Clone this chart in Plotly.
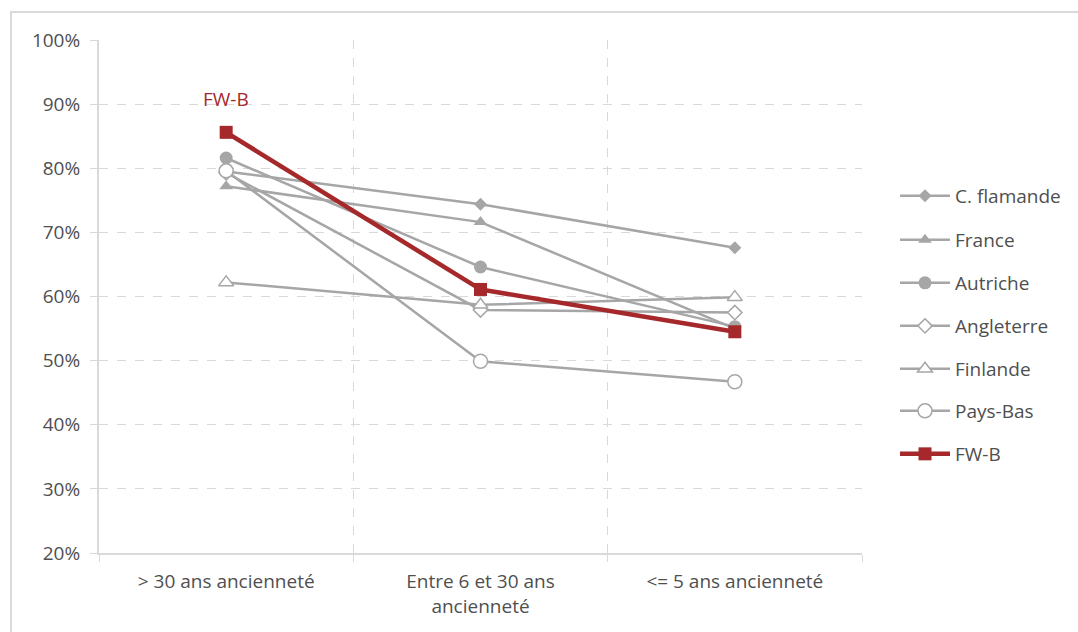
import plotly.graph_objects as go

categories = ["> 30 ans ancienneté", "Entre 6 et 30 ans<br>ancienneté", "<= 5 ans ancienneté"]
series_names = ["C. flamande", "France", "Autriche", "Angleterre", "Finlande", "Pays-Bas", "FW-B"]
c_flamande = [0.795, 0.744, 0.676]
france = [0.772, 0.716, 0.550]
autriche = [0.816, 0.646, 0.553]
angleterre = [0.793, 0.579, 0.575]
finlande = [0.622, 0.587, 0.599]
pays_bas = [0.796, 0.499, 0.467]
fw_b = [0.856, 0.611, 0.545]
y_ticks = [0.2, 0.3, 0.4, 0.5, 0.6, 0.7, 0.8, 0.9, 1.0]

GRAY = "#A6A6A6"
RED = "#A5282A"
TXT = "#4F4F4F"
FONT = "'Open Sans', Lato, sans-serif"

styles = [
    dict(symbol="diamond", size=10, color=GRAY, line=dict(width=0)),
    dict(symbol="triangle-up", size=12, color=GRAY, line=dict(width=0)),
    dict(symbol="circle", size=13, color=GRAY, line=dict(width=0)),
    dict(symbol="diamond", size=11, color="white", line=dict(color=GRAY, width=1.5)),
    dict(symbol="triangle-up", size=13, color="white", line=dict(color=GRAY, width=1.5)),
    dict(symbol="circle", size=14, color="white", line=dict(color=GRAY, width=1.5)),
    dict(symbol="square", size=13, color=RED, line=dict(width=0)),
]
values = [c_flamande, france, autriche, angleterre, finlande, pays_bas, fw_b]

# plot area in pixels: x 99..862, y 40..553
W, H = 1078, 632
L, R, T, B = 99, 1078 - 862, 40, 632 - 553
pw, ph = W - L - R, H - T - B

legend_py = [196, 240, 283, 326, 369, 411, 454]

fig = go.Figure()
for i, (name, vals, st) in enumerate(zip(series_names, values, styles)):
    is_red = name == "FW-B"
    fig.add_trace(go.Scatter(
        x=categories, y=vals, name=name, mode="lines+markers",
        line=dict(color=RED if is_red else GRAY, width=4.5 if is_red else 2.5),
        marker=st,
        legend="legend" if i == 0 else f"legend{i+1}",
        hoverinfo="skip",
    ))

layout_legends = {}
for i, py in enumerate(legend_py):
    key = "legend" if i == 0 else f"legend{i+1}"
    layout_legends[key] = dict(
        x=(895 - L) / pw, y=(553 - py) / ph, xanchor="left", yanchor="middle",
        font=dict(family=FONT, size=19, color=TXT), bgcolor="rgba(0,0,0,0)",
        itemwidth=50,
    )

fig.add_annotation(
    x=categories[0], y=fw_b[0], text="FW-B", showarrow=False, yshift=33,
    font=dict(family=FONT, size=19, color=RED),
)

fig.add_shape(
    type="rect", xref="paper", yref="paper",
    x0=(11 - L) / pw, x1=(1090 - L) / pw, y0=(553 - 650) / ph, y1=(553 - 12) / ph,
    line=dict(color="#D9D9D9", width=2), fillcolor="rgba(0,0,0,0)", layer="below",
)

fig.update_layout(
    width=W, height=H,
    margin=dict(l=L, r=R, t=T, b=B),
    paper_bgcolor="white", plot_bgcolor="white",
    font=dict(family=FONT, size=19, color=TXT),
    **layout_legends,
    showlegend=True,
)
fig.update_xaxes(
    type="category", range=[-0.5, 2.5], tickson="boundaries",
    showgrid=True, gridcolor="#D9D9D9", griddash="dash", gridwidth=1,
    showline=True, linecolor="#D9D9D9", linewidth=2,
    ticks="outside", ticklen=7, tickcolor="#D9D9D9", tickwidth=1,
    tickfont=dict(family=FONT, size=19, color=TXT), zeroline=False,
    ticklabelstandoff=10,
)
fig.update_yaxes(
    range=[0.2, 1.0], tickvals=y_ticks, tickformat=".0%",
    showgrid=True, gridcolor="#D9D9D9", griddash="dash", gridwidth=1,
    showline=True, linecolor="#D9D9D9", linewidth=2,
    ticks="outside", ticklen=7, tickcolor="#D9D9D9",
    tickfont=dict(family=FONT, size=19, color=TXT), zeroline=False,
    ticklabelstandoff=6,
)

fig.write_html("out.html")
